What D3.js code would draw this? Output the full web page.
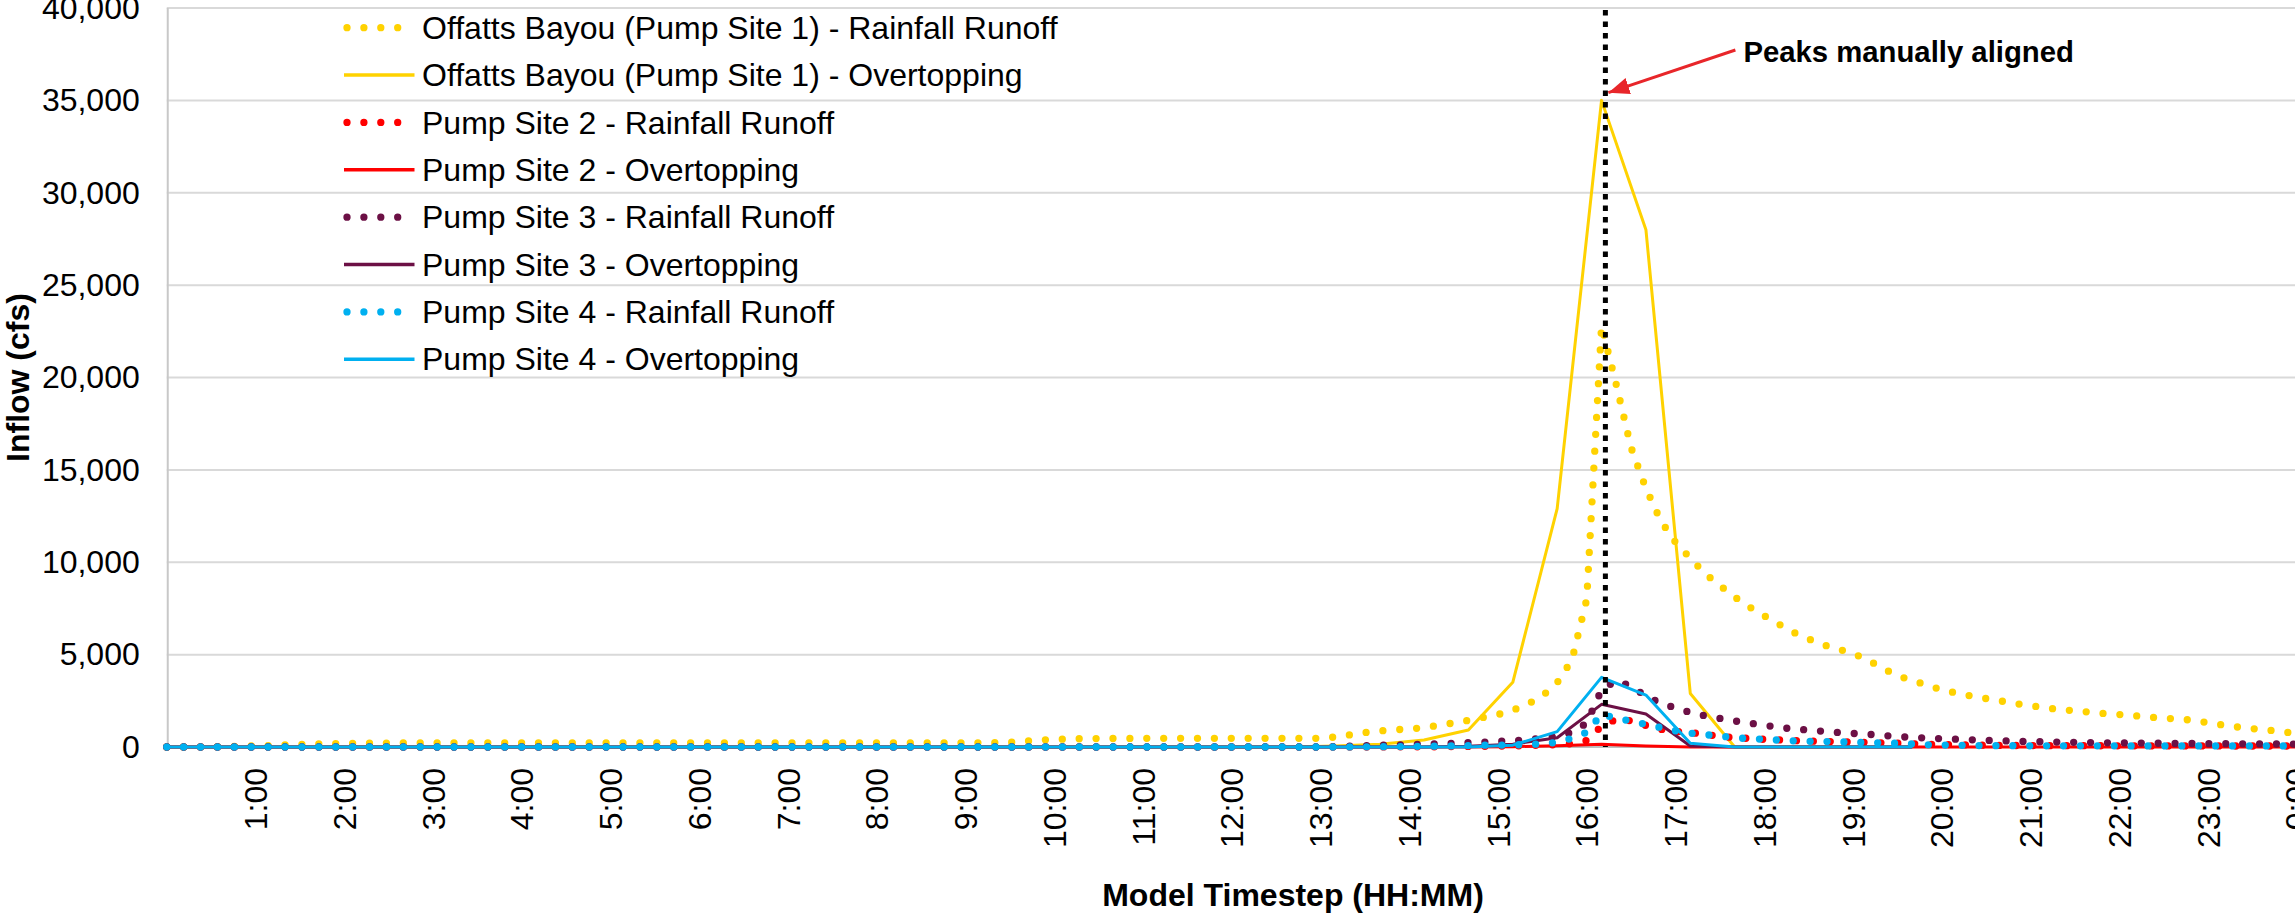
<!DOCTYPE html>
<html>
<head>
<meta charset="utf-8">
<script src="https://cdn.jsdelivr.net/npm/d3@7/dist/d3.min.js"></script>
<style>
  body { margin: 0; background: #fff; }
  svg { display: block; font-family: "Liberation Sans", Arial, sans-serif; }
</style>
</head>
<body>
<svg id="chart" width="2295" height="914"></svg>
<script>
// runoff hydrographs: model output every 10 min, 0:00 .. 24:00 (minutes)
const runoffTimes = d3.range(0, 24 * 60 + 1, 10)
// overtopping hydrographs: every 30 min, shifted 10 min so the peaks line up (minutes)
const overtopTimes = [0].concat(d3.range(10, 24 * 60, 30), [24 * 60])

// inflow in cfs, one row per hour (:00 :10 :20 :30 :40 :50), last value = 24:00
const offattsRunoff = [
  0, 5, 10, 15, 25, 40,
  60, 80, 110, 140, 160, 180,
  195, 205, 210, 215, 220, 220,
  220, 220, 220, 220, 220, 220,
  220, 220, 220, 220, 220, 220,
  220, 220, 220, 220, 220, 220,
  220, 220, 220, 220, 220, 220,
  220, 220, 220, 220, 220, 220,
  220, 220, 220, 220, 220, 220,
  220, 225, 230, 250, 310, 370,
  415, 435, 450, 455, 460, 465,
  470, 470, 470, 470, 470, 470,
  470, 470, 470, 470, 470, 470,
  470, 540, 660, 780, 870, 930,
  975, 1050, 1170, 1305, 1440, 1600,
  1755, 1995, 2315, 2760, 3480, 4710,
  8000, 22800, 19600, 16200, 14000, 12250,
  11080, 10220, 9380, 8740, 8120, 7580,
  7100, 6640, 6200, 5850, 5530, 5300,
  5060, 4710, 4260, 3870, 3590, 3360,
  3090, 2920, 2760, 2620, 2490, 2350,
  2240, 2120, 2030, 1960, 1890, 1810,
  1760, 1700, 1615, 1565, 1505, 1455,
  1310, 1190, 1080, 990, 920, 825,
  740
]
const site2Runoff = [
  0, 0, 0, 0, 0, 0,  0, 0, 0, 0, 0, 0,  0, 0, 0, 0, 0, 0,
  0, 0, 0, 0, 0, 0,  0, 0, 0, 0, 0, 0,  0, 0, 0, 0, 0, 0,
  0, 0, 0, 0, 0, 0,  0, 0, 0, 0, 0, 0,  0, 0, 0, 0, 0, 0,
  0, 0, 0, 0, 0, 0,  0, 0, 0, 0, 0, 0,  0, 0, 0, 0, 0, 0,
  0, 0, 0, 0, 0, 0,
  0, 0, 0, 0, 5, 5,
  10, 10, 15, 25, 30, 40,
  50, 60, 80, 100, 130, 180,
  350, 1130, 1500, 1420, 1170, 960,
  850, 780, 690, 570, 510, 460,
  415, 385, 345, 320, 300, 285,
  268, 250, 222, 205, 175, 150,
  138, 124, 110, 95, 85, 80,
  75, 75, 70, 70, 70, 65,
  65, 65, 60, 60, 60, 60,
  60, 55, 55, 55, 55, 55,
  55
]
const site3Runoff = [
  0, 0, 0, 0, 0, 0,  0, 0, 0, 0, 0, 0,  0, 0, 0, 0, 0, 0,
  0, 0, 0, 0, 0, 0,  0, 0, 0, 0, 0, 0,  0, 0, 0, 0, 0, 0,
  0, 0, 0, 0, 0, 0,  0, 0, 0, 0, 0, 0,  0, 0, 0, 0, 0, 0,
  0, 0, 0, 0, 0, 0,  0, 0, 0, 0, 0, 0,  0, 0, 0, 0, 0, 0,
  0, 0, 0, 0, 0, 0,
  0, 20, 50, 75, 95, 110,
  130, 150, 170, 200, 235, 260,
  300, 340, 400, 480, 580, 790,
  1300, 3100, 3590, 3300, 2750, 2380,
  2110, 1870, 1690, 1550, 1410, 1290,
  1176, 1060, 975, 915, 850, 785,
  735, 690, 630, 565, 515, 485,
  450, 420, 390, 360, 335, 315,
  290, 280, 265, 250, 240, 230,
  220, 215, 210, 200, 195, 190,
  180, 178, 175, 170, 165, 160,
  155
]
const site4Runoff = [
  0, 0, 0, 0, 0, 0,  0, 0, 0, 0, 0, 0,  0, 0, 0, 0, 0, 0,
  0, 0, 0, 0, 0, 0,  0, 0, 0, 0, 0, 0,  0, 0, 0, 0, 0, 0,
  0, 0, 0, 0, 0, 0,  0, 0, 0, 0, 0, 0,  0, 0, 0, 0, 0, 0,
  0, 0, 0, 0, 0, 0,  0, 0, 0, 0, 0, 0,  0, 0, 0, 0, 0, 0,
  0, 0, 0, 0, 0, 0,
  0, 0, 5, 10, 15, 20,
  30, 40, 50, 60, 80, 95,
  105, 108, 144, 160, 260, 470,
  800, 1780, 1560, 1400, 1230, 1050,
  880, 750, 670, 590, 510, 440,
  420, 370, 335, 310, 300, 280,
  255, 238, 222, 205, 160, 120,
  108, 95, 85, 75, 72, 70,
  65, 65, 65, 65, 62, 62,
  62, 60, 60, 60, 60, 60,
  60, 60, 60, 60, 60, 60,
  60
]

// overtopping, on overtopTimes (0:00, 0:10, 0:40, 1:10 ...)
const offattsOvertop = [
  0, 0, 0, 0, 0, 0, 0, 0, 0, 0,
  0, 0, 0, 0, 0, 0, 0, 0, 0, 0,
  0, 0, 0, 0, 0, 0, 0, 50, 150, 380,
  920, 3500, 12900, 35000, 28000, 2900, 0, 0, 0, 0,
  0
]
const site2Overtop = [
  0, 0, 0, 0, 0, 0, 0, 0, 0, 0,
  0, 0, 0, 0, 0, 0, 0, 0, 0, 0,
  0, 0, 0, 0, 0, 0, 0, 0, 0, 0,
  0, 20, 70, 145, 55, 0, 0, 0, 0, 0,
  0, 0, 0, 0, 0, 0, 0, 0, 0, 0
]
const site3Overtop = [
  0, 0, 0, 0, 0, 0, 0, 0, 0, 0,
  0, 0, 0, 0, 0, 0, 0, 0, 0, 0,
  0, 0, 0, 0, 0, 0, 0, 0, 0, 0,
  40, 150, 500, 2310, 1790, 50, 0, 0, 0, 0,
  0
]
const site4Overtop = [
  0, 0, 0, 0, 0, 0, 0, 0, 0, 0,
  0, 0, 0, 0, 0, 0, 0, 0, 0, 0,
  0, 0, 0, 0, 0, 0, 0, 0, 0, 0,
  0, 100, 830, 3770, 2810, 200, 0, 0, 0, 0,
  0
]

const yTicks = [0, 5000, 10000, 15000, 20000, 25000, 30000, 35000, 40000]
const xTicks = d3.range(60, 24 * 60 + 1, 60)   // every hour, 24:00 shows as 0:00
const peakLineTime = 16.21 * 60                   // where the peaks were aligned

const series = [
  { name: 'Offatts Bayou (Pump Site 1) - Rainfall Runoff', times: runoffTimes, values: offattsRunoff, color: '#FFD200', dotted: true },
  { name: 'Offatts Bayou (Pump Site 1) - Overtopping', times: overtopTimes, values: offattsOvertop, color: '#FFD200', dotted: false },
  { name: 'Pump Site 2 - Rainfall Runoff', times: runoffTimes, values: site2Runoff, color: '#FF0000', dotted: true },
  { name: 'Pump Site 2 - Overtopping', times: overtopTimes, values: site2Overtop, color: '#FF0000', dotted: false },
  { name: 'Pump Site 3 - Rainfall Runoff', times: runoffTimes, values: site3Runoff, color: '#6C1045', dotted: true },
  { name: 'Pump Site 3 - Overtopping', times: overtopTimes, values: site3Overtop, color: '#6C1045', dotted: false },
  { name: 'Pump Site 4 - Rainfall Runoff', times: runoffTimes, values: site4Runoff, color: '#00B0F0', dotted: true },
  { name: 'Pump Site 4 - Overtopping', times: overtopTimes, values: site4Overtop, color: '#00B0F0', dotted: false }
]

const svg = d3.select('#chart')
const plot = { left: 166.75, right: 2296.75, top: 8, bottom: 747 }

const x = d3.scaleLinear().domain([0, 24 * 60]).range([plot.left, plot.right])
const y = d3.scaleLinear().domain([0, 40000]).range([plot.bottom, plot.top])

const DOT_W = 7.3
const DOT_DASH = '0 16.9'
const LINE_W = 3

// gridlines
svg.append('g')
  .selectAll('line')
  .data(yTicks.filter(d => d > 0))
  .join('line')
  .attr('x1', plot.left).attr('x2', plot.right)
  .attr('y1', d => y(d)).attr('y2', d => y(d))
  .attr('stroke', '#D9D9D9')
  .attr('stroke-width', 2)

// axis lines
svg.append('line')
  .attr('x1', plot.left + 1).attr('x2', plot.left + 1)
  .attr('y1', plot.top).attr('y2', plot.bottom)
  .attr('stroke', '#C8C8C8').attr('stroke-width', 2)
svg.append('line')
  .attr('x1', plot.left).attr('x2', plot.right)
  .attr('y1', y(0)).attr('y2', y(0))
  .attr('stroke', '#BFBFBF').attr('stroke-width', 2)

// y axis labels
const yAxis = svg.append('g')
  .attr('transform', `translate(${plot.left},0)`)
  .call(d3.axisLeft(y).tickValues(yTicks).tickFormat(d3.format(',')).tickSize(0).tickPadding(27))
yAxis.select('.domain').remove()
yAxis.selectAll('text')
  .attr('font-family', '"Liberation Sans", Arial, sans-serif')
  .attr('font-size', 32)
  .attr('fill', '#000')

// x axis labels, rotated
const xAxis = svg.append('g')
  .attr('transform', `translate(0,${y(0)})`)
  .call(d3.axisBottom(x).tickValues(xTicks).tickFormat(m => `${(m / 60) % 24}:00`).tickSize(0))
xAxis.select('.domain').remove()
xAxis.selectAll('text')
  .attr('font-family', '"Liberation Sans", Arial, sans-serif')
  .attr('font-size', 32)
  .attr('fill', '#000')
  .attr('transform', 'rotate(-90)')
  .attr('text-anchor', 'end')
  .attr('x', -21)
  .attr('y', 0)
  .attr('dy', '0.35em')

// axis titles
svg.append('text')
  .attr('x', 1293).attr('y', 906)
  .attr('text-anchor', 'middle')
  .attr('font-size', 32).attr('font-weight', 'bold')
  .text('Model Timestep (HH:MM)')
svg.append('text')
  .attr('transform', `translate(29,${(plot.top + plot.bottom) / 2}) rotate(-90)`)
  .attr('text-anchor', 'middle')
  .attr('font-size', 32).attr('font-weight', 'bold')
  .text('Inflow (cfs)')

// series
const line = d3.line()
  .x(d => x(d[0]))
  .y(d => y(d[1]))

svg.append('g')
  .selectAll('path')
  .data(series)
  .join('path')
  .attr('d', s => line(s.values.map((v, i) => [s.times[i], v])))
  .attr('fill', 'none')
  .attr('stroke', s => s.color)
  .attr('stroke-width', s => s.dotted ? DOT_W : LINE_W)
  .attr('stroke-dasharray', s => s.dotted ? DOT_DASH : null)
  .attr('stroke-linecap', s => s.dotted ? 'round' : 'butt')
  .attr('stroke-linejoin', 'round')

// peak alignment marker
svg.append('line')
  .attr('x1', x(peakLineTime)).attr('x2', x(peakLineTime))
  .attr('y1', plot.top + 2).attr('y2', y(0))
  .attr('stroke', '#000')
  .attr('stroke-width', 5)
  .attr('stroke-dasharray', '5.5 6')

svg.append('defs').append('marker')
  .attr('id', 'arrow')
  .attr('viewBox', '0 0 10 8')
  .attr('refX', 10).attr('refY', 4)
  .attr('markerWidth', 7).attr('markerHeight', 5.6)
  .attr('orient', 'auto')
  .append('path')
  .attr('d', 'M0,0 L10,4 L0,8 z')
  .attr('fill', '#E8262A')

const px = x(peakLineTime)
svg.append('line')
  .attr('x1', px + 130).attr('y1', 50)
  .attr('x2', px + 3).attr('y2', 92.7)
  .attr('stroke', '#E8262A')
  .attr('stroke-width', 3)
  .attr('marker-end', 'url(#arrow)')

svg.append('text')
  .attr('x', px + 138).attr('y', 61.7)
  .attr('font-size', 29.3).attr('font-weight', 'bold')
  .text('Peaks manually aligned')

// legend (no box, sits inside the plot)
const legend = svg.append('g')
  .selectAll('g')
  .data(series)
  .join('g')
  .attr('transform', (s, i) => `translate(0,${27.7 + i * 47.37})`)

legend.append('line')
  .attr('x1', s => s.dotted ? 347 : 344)
  .attr('x2', s => s.dotted ? 400 : 414.5)
  .attr('stroke', s => s.color)
  .attr('stroke-width', s => s.dotted ? DOT_W : 3.5)
  .attr('stroke-dasharray', s => s.dotted ? DOT_DASH : null)
  .attr('stroke-linecap', s => s.dotted ? 'round' : 'butt')

legend.append('text')
  .attr('x', 422)
  .attr('dy', '0.35em')
  .attr('font-size', 32)
  .attr('fill', '#000')
  .text(s => s.name)
</script>
</body>
</html>
